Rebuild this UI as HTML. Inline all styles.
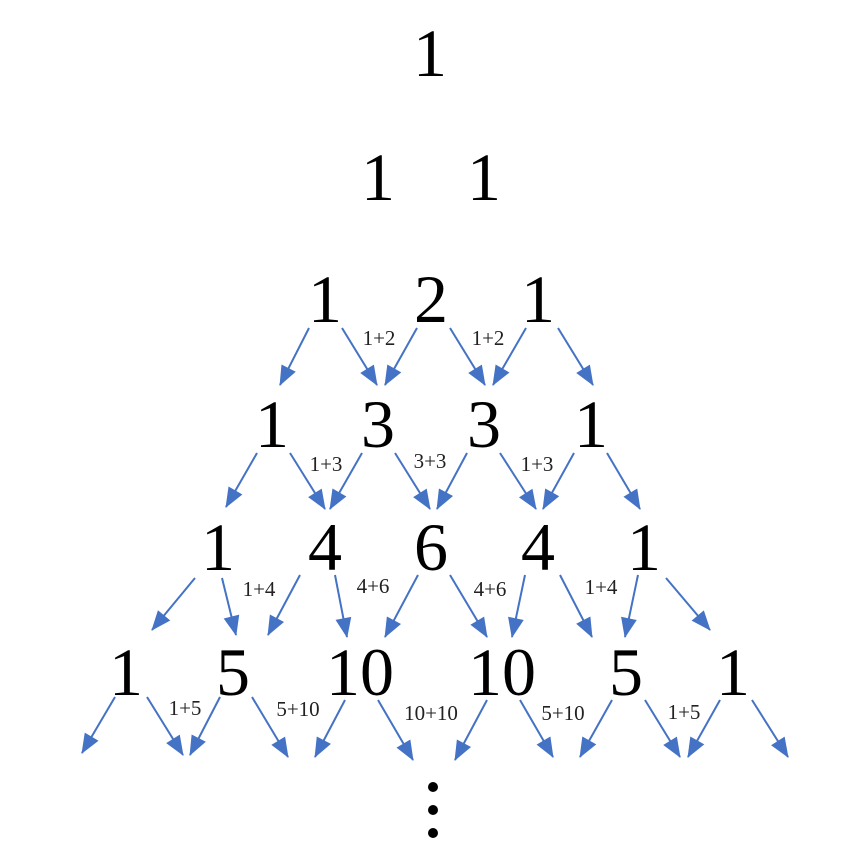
<!DOCTYPE html>
<html><head><meta charset="utf-8"><style>html,body{margin:0;background:#fff}</style></head><body>
<svg width="863" height="863" viewBox="0 0 863 863" xmlns="http://www.w3.org/2000/svg">
<defs><marker id="a" markerWidth="10" markerHeight="8" refX="9" refY="4" orient="auto" markerUnits="userSpaceOnUse" viewBox="0 0 10 8" style="overflow:visible"><path d="M0,0 L10,4 L0,8 z" fill="#4472C4" transform="scale(2)translate(-5,-2)"/></marker></defs>
<g font-family="Liberation Serif, serif" font-size="68" text-anchor="middle" fill="#000">
<text x="430" y="76">1</text>
<text x="378" y="200">1</text><text x="484" y="200">1</text>
<text x="325" y="322">1</text><text x="431" y="322">2</text><text x="538" y="322">1</text>
<text x="272" y="447">1</text><text x="378" y="447">3</text><text x="484" y="447">3</text><text x="591" y="447">1</text>
<text x="218" y="570">1</text><text x="325" y="570">4</text><text x="431" y="570">6</text><text x="538" y="570">4</text><text x="644" y="570">1</text>
<text x="126" y="695">1</text><text x="233" y="695">5</text><text x="360" y="695">10</text><text x="502" y="695">10</text><text x="626" y="695">5</text><text x="733" y="695">1</text>
</g>
<g font-family="Liberation Serif, serif" font-size="21" text-anchor="middle" fill="#222">
<text x="379" y="345">1+2</text><text x="488" y="345">1+2</text>
<text x="326" y="471">1+3</text><text x="430" y="468">3+3</text><text x="537" y="471">1+3</text>
<text x="259" y="596">1+4</text><text x="373" y="593">4+6</text><text x="490" y="596">4+6</text><text x="601" y="594">1+4</text>
<text x="185" y="715">1+5</text><text x="298" y="716">5+10</text><text x="431" y="720">10+10</text><text x="563" y="720">5+10</text><text x="684" y="719">1+5</text>
</g>
<g stroke="#4472C4" stroke-width="2" marker-end="url(#a)">
<line x1="309" y1="328" x2="280" y2="385"/><line x1="342" y1="328" x2="377" y2="385"/><line x1="417" y1="328" x2="385" y2="385"/><line x1="450" y1="328" x2="485" y2="385"/><line x1="526" y1="328" x2="493" y2="385"/><line x1="558" y1="328" x2="593" y2="385"/>
<line x1="257" y1="453" x2="226" y2="507"/><line x1="290" y1="453" x2="325" y2="509"/><line x1="362" y1="453" x2="330" y2="509"/><line x1="395" y1="453" x2="430" y2="509"/><line x1="467" y1="453" x2="437" y2="509"/><line x1="500" y1="453" x2="536" y2="509"/><line x1="574" y1="453" x2="543" y2="509"/><line x1="607" y1="453" x2="640" y2="509"/>
<line x1="195" y1="578" x2="152" y2="630"/><line x1="222" y1="578" x2="236" y2="635"/><line x1="300" y1="575" x2="268" y2="635"/><line x1="335" y1="575" x2="347" y2="637"/><line x1="418" y1="575" x2="385" y2="637"/><line x1="450" y1="575" x2="487" y2="637"/><line x1="525" y1="575" x2="512" y2="637"/><line x1="560" y1="575" x2="592" y2="637"/><line x1="638" y1="575" x2="625" y2="637"/><line x1="666" y1="578" x2="710" y2="630"/>
<line x1="115" y1="697" x2="82" y2="753"/><line x1="147" y1="697" x2="183" y2="755"/><line x1="220" y1="697" x2="190" y2="755"/><line x1="252" y1="697" x2="288" y2="757"/><line x1="345" y1="700" x2="315" y2="757"/><line x1="378" y1="700" x2="413" y2="760"/><line x1="487" y1="700" x2="455" y2="760"/><line x1="520" y1="700" x2="553" y2="757"/><line x1="612" y1="700" x2="580" y2="757"/><line x1="645" y1="700" x2="680" y2="757"/><line x1="720" y1="700" x2="688" y2="757"/><line x1="752" y1="700" x2="788" y2="757"/>
</g>
<g fill="#000"><circle cx="433" cy="787" r="5"/><circle cx="433" cy="810" r="5"/><circle cx="433" cy="833" r="5"/></g>
</svg>
</body></html>
